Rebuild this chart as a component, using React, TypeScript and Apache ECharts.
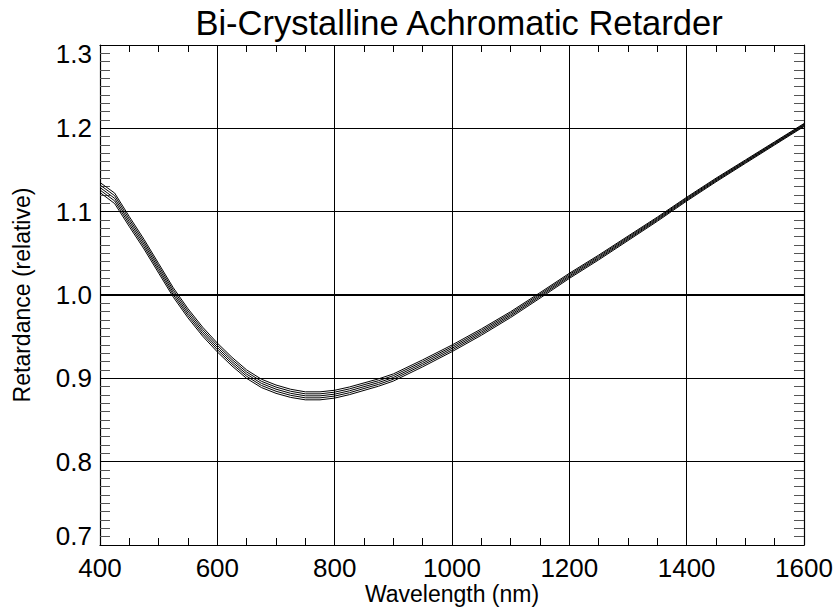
import React, { useEffect, useRef } from "react";
import * as echarts from "echarts";

const FONT = "'Liberation Sans', Arial, Helvetica, sans-serif";

const titleText = "Bi-Crystalline Achromatic Retarder";
const xName = "Wavelength (nm)";
const yName = "Retardance (relative)";

const wavelengths = [
  400, 425, 450, 475, 500, 525, 550, 575, 600, 625, 650, 675, 700, 725, 750, 775,
  800, 825, 850, 875, 900, 950, 1000, 1050, 1100, 1150, 1200, 1250, 1300, 1350,
  1400, 1450, 1500, 1550, 1600,
];

const retardance1 = [
  1.135, 1.1223, 1.094, 1.0668, 1.0377, 1.0086, 0.9835, 0.9614, 0.9423, 0.9252,
  0.9101, 0.899, 0.892, 0.8869, 0.8838, 0.8838, 0.8857, 0.8896, 0.8945, 0.8994,
  0.9053, 0.9222, 0.94, 0.9593, 0.98, 1.0028, 1.0261, 1.0479, 1.0707, 1.0935,
  1.1173, 1.1402, 1.162, 1.1839, 1.2058,
];
const retardance2 = [
  1.132, 1.1192, 1.091, 1.0639, 1.0349, 1.0058, 0.9808, 0.9587, 0.9397, 0.9226,
  0.9076, 0.8965, 0.8895, 0.8845, 0.8814, 0.8814, 0.8834, 0.8873, 0.8923, 0.8972,
  0.9032, 0.9201, 0.938, 0.9574, 0.9783, 1.0012, 1.0246, 1.0465, 1.0694, 1.0923,
  1.1162, 1.1391, 1.161, 1.183, 1.2049,
];
const retardance3 = [
  1.129, 1.116, 1.088, 1.061, 1.032, 1.003, 0.978, 0.956, 0.937, 0.92,
  0.905, 0.894, 0.887, 0.882, 0.879, 0.879, 0.881, 0.885, 0.89, 0.895,
  0.901, 0.918, 0.936, 0.9555, 0.9765, 0.9995, 1.023, 1.045, 1.068, 1.091,
  1.115, 1.138, 1.16, 1.182, 1.204,
];
const retardance4 = [
  1.126, 1.1129, 1.085, 1.0581, 1.0292, 1.0002, 0.9753, 0.9533, 0.9344, 0.9174,
  0.9025, 0.8915, 0.8845, 0.8796, 0.8766, 0.8766, 0.8787, 0.8827, 0.8878, 0.8928,
  0.8989, 0.9159, 0.934, 0.9536, 0.9748, 0.9979, 1.0215, 1.0436, 1.0667, 1.0898,
  1.1139, 1.1369, 1.159, 1.1811, 1.2031,
];
const retardance5 = [
  1.123, 1.1097, 1.082, 1.0552, 1.0263, 0.9974, 0.9725, 0.9506, 0.9317, 0.9148,
  0.8999, 0.889, 0.882, 0.8771, 0.8742, 0.8742, 0.8763, 0.8804, 0.8855, 0.8906,
  0.8967, 0.9138, 0.932, 0.9517, 0.973, 0.9962, 1.0199, 1.0421, 1.0653, 1.0885,
  1.1127, 1.1358, 1.158, 1.1801, 1.2022,
];

const curves = [retardance1, retardance2, retardance3, retardance4, retardance5];

const xMin = 400;
const xMax = 1600;
const xStep = 200;
const yMin = 0.7;
const yMax = 1.3;
const yStep = 0.1;
const unityLevel = 1.0;

export default function App() {
  const ref = useRef<HTMLDivElement>(null);

  useEffect(() => {
    if (!ref.current) return;
    const chart = echarts.init(ref.current, null, { renderer: "svg" });

    const tickFont = { fontFamily: FONT, fontSize: 26, lineHeight: 26, color: "#000" };

    const baseX = {
      type: "value" as const,
      min: xMin,
      max: xMax,
      interval: xStep,
      axisLine: { show: true, onZero: false, lineStyle: { color: "#000", width: 1.2 } },
      axisTick: { show: true, inside: true, length: 7, lineStyle: { color: "#000", width: 1 } },
      minorTick: { show: true, splitNumber: 4, length: 7, lineStyle: { color: "#000", width: 1 } },
      splitLine: { show: false },
    };
    const baseY = {
      type: "value" as const,
      min: yMin,
      max: yMax,
      interval: yStep,
      axisLine: { show: true, onZero: false, lineStyle: { color: "#000", width: 1.2 } },
      axisTick: { show: true, inside: true, length: 10, lineStyle: { color: "#000", width: 1 } },
      minorTick: { show: true, splitNumber: 10, length: 10, lineStyle: { color: "#555", width: 1 } },
      splitLine: { show: false },
    };

    chart.setOption({
      animation: false,
      backgroundColor: "#fff",
      title: {
        text: titleText,
        left: 454,
        top: 0,
        textAlign: "center",
        textStyle: { fontFamily: FONT, fontSize: 34.5, fontWeight: "normal", color: "#000" },
      },
      grid: { left: 100, top: 45, right: 33, bottom: 70, containLabel: false },
      xAxis: [
        {
          ...baseX,
          position: "bottom",
          name: xName,
          nameLocation: "middle",
          nameGap: 37,
          nameMoveOverlap: false,
          nameTextStyle: { fontFamily: FONT, fontSize: 23, lineHeight: 23, color: "#000" },
          axisLabel: { ...tickFont, margin: 10, formatter: (v: number) => String(v) },
          splitLine: { show: true, lineStyle: { color: "#000", width: 1 } },
        },
        {
          ...baseX,
          position: "top",
          axisLabel: { show: false },
        },
      ],
      yAxis: [
        {
          ...baseY,
          position: "left",
          name: yName,
          nameLocation: "middle",
          nameGap: 67,
          nameTextStyle: { fontFamily: FONT, fontSize: 23, color: "#000" },
          axisLabel: {
            ...tickFont,
            margin: 8,
            showMinLabel: false,
            showMaxLabel: false,
            formatter: (v: number) => v.toFixed(1),
          },
          splitLine: { show: true, lineStyle: { color: "#000", width: 1 } },
        },
        {
          ...baseY,
          position: "right",
          axisLabel: { show: false },
        },
      ],
      series: curves.map((vals, i) => ({
        name: "curve" + (i + 1),
        type: "line",
        xAxisIndex: 0,
        yAxisIndex: 0,
        data: wavelengths.map((w, j) => [w, vals[j]]),
        showSymbol: false,
        symbol: "none",
        smooth: false,
        lineStyle: { color: "#000", width: 1 },
        z: 3,
        // unity reference level drawn a little heavier than the grid
        markLine:
          i === 0
            ? {
                silent: true,
                symbol: "none",
                label: { show: false },
                lineStyle: { color: "#000", width: 1.8, type: "solid" },
                data: [{ yAxis: unityLevel }],
              }
            : undefined,
      })),
    });

    // End labels of the y axis sit just inside the frame.
    const topPt = chart.convertToPixel({ gridIndex: 0 }, [xMin, yMax]) as number[];
    const botPt = chart.convertToPixel({ gridIndex: 0 }, [xMin, yMin]) as number[];
    const endLabel = (pt: number[], value: number, dy: number) => ({
      type: "text",
      x: pt[0] - 8,
      y: pt[1] + dy,
      style: {
        text: value.toFixed(1),
        fontFamily: FONT,
        fontSize: 26,
        fill: "#000",
        align: "right",
        verticalAlign: "middle",
      },
    });
    chart.setOption({
      graphic: [endLabel(topPt, yMax, 9), endLabel(botPt, yMin, -9)],
    });

    return () => chart.dispose();
  }, []);

  return (
    <div
      ref={ref}
      style={{ position: "fixed", left: 0, top: 0, width: 837, height: 615 }}
    />
  );
}
